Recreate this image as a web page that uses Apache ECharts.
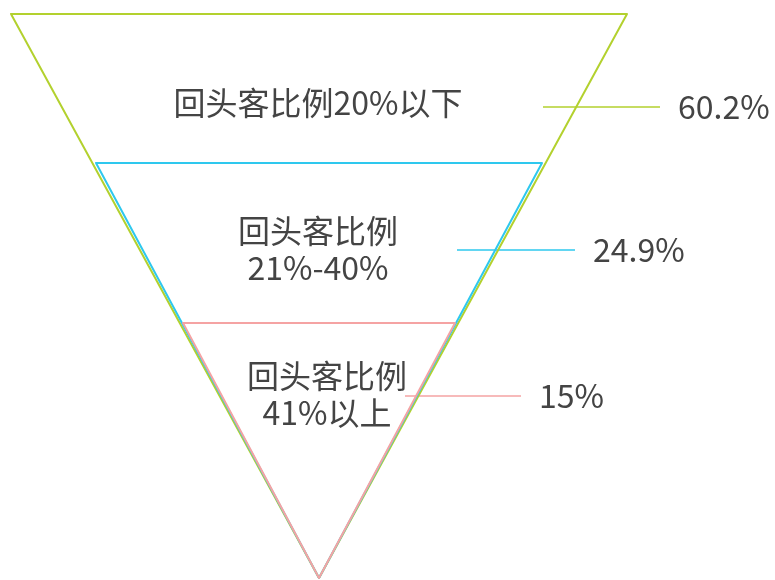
<!DOCTYPE html>
<html>
<head>
<meta charset="utf-8">
<script src="https://cdn.jsdelivr.net/npm/echarts@6/dist/echarts.min.js"></script>
<style>
  html, body { margin: 0; padding: 0; background: #fff; }
  #chart { width: 775px; height: 580px; }
</style>
</head>
<body>
<div id="chart"></div>
<script>
// data
const names = ['回头客比例20%以下', '回头客比例\n21%-40%', '回头客比例\n41%以上']
const values = [60.2, 24.9, 15]
const colors = ['#b3d12e', '#2ec8ee', '#f5a3a3']

// nested triangle boxes, all sharing the same apex
const boxes = [
  { left: 11, top: 14, width: 616, height: 564 },
  { left: 96, top: 163, width: 446, height: 415 },
  { left: 183, top: 323, width: 272, height: 255 },
]
// where the name / percent labels sit
const spots = [
  { nameX: 318, nameY: 103, lineX1: 543, lineX2: 660, y: 107 },
  { nameX: 318, nameY: 249, lineX1: 457, lineX2: 575, y: 250 },
  { nameX: 327, nameY: 394, lineX1: 405, lineX2: 521, y: 396 },
]

const font = '"Noto Sans CJK SC", "Microsoft YaHei", sans-serif'
const myChart = echarts.init(document.getElementById('chart'))

const series = []
values.forEach((v, i) => {
  const box = boxes[i]
  const spot = spots[i]
  const base = {
    type: 'funnel',
    left: box.left,
    top: box.top,
    width: box.width,
    height: box.height,
    sort: 'none',
    min: 0,
    max: v,
    minSize: '0%',
    maxSize: '100%',
    silent: true,
    animation: false,
    data: [{ name: names[i], value: v }],
  }
  // triangle + name inside
  series.push(Object.assign({}, base, {
    name: 'shape' + i,
    itemStyle: { color: 'rgba(255,255,255,0)', borderColor: colors[i], borderWidth: 2 },
    label: {
      show: true,
      position: 'inside',
      formatter: '{b}',
      color: '#444',
      fontSize: 32,
      lineHeight: 37,
      fontFamily: font,
    },
    labelLine: { show: false },
    labelLayout: () => ({ x: spot.nameX, y: spot.nameY, align: 'center', verticalAlign: 'middle' }),
  }))
  // percent on the right with a leader line
  series.push(Object.assign({}, base, {
    name: 'pct' + i,
    itemStyle: { color: 'rgba(255,255,255,0)', borderWidth: 0 },
    label: {
      show: true,
      position: 'right',
      formatter: '{c}%',
      color: '#444',
      fontSize: 32,
      fontFamily: font,
    },
    labelLine: { show: true, length: 20, lineStyle: { color: colors[i], width: 1.5 } },
    labelLayout: () => ({
      x: spot.lineX2 + 18,
      y: spot.y,
      align: 'left',
      verticalAlign: 'middle',
      labelLinePoints: [[spot.lineX1, spot.y], [spot.lineX2, spot.y]],
    }),
  }))
})

myChart.setOption({
  backgroundColor: '#fff',
  series: series,
})
</script>
</body>
</html>
